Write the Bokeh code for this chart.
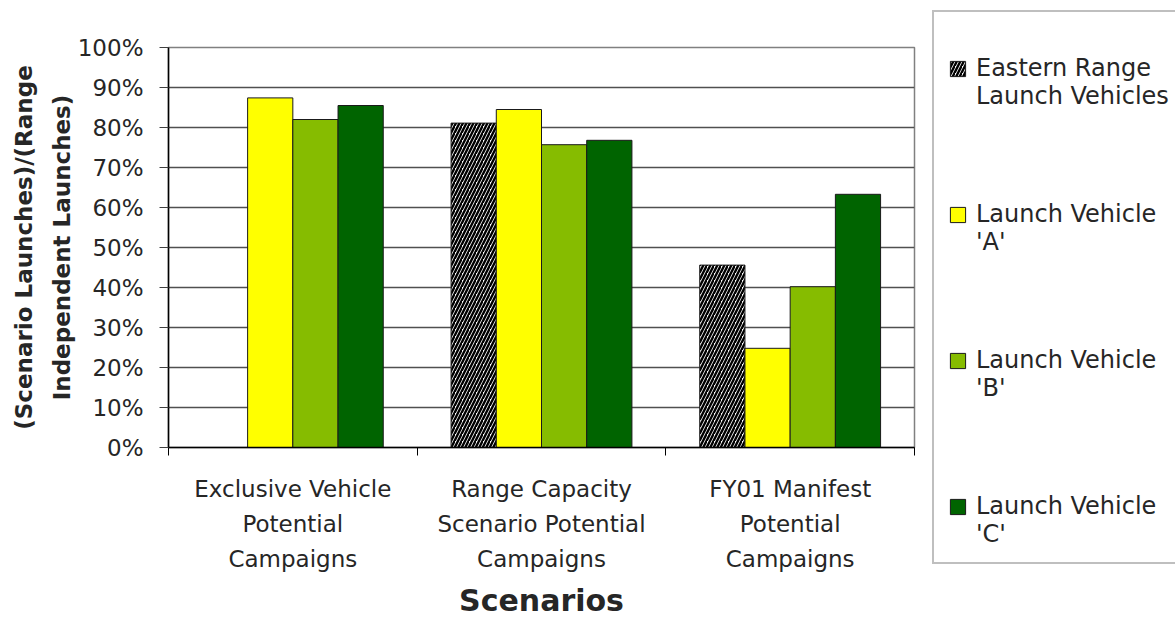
import math
from bokeh.plotting import figure
from bokeh.models import (Range1d, FixedTicker, NumeralTickFormatter, Legend, LegendItem,
                          ColumnDataSource)
from bokeh.transform import dodge
from bokeh.embed import file_html
from bokeh.resources import INLINE

# ---- data ----
categories = ["Exclusive Vehicle\nPotential\nCampaigns",
              "Range Capacity\nScenario Potential\nCampaigns",
              "FY01 Manifest\nPotential\nCampaigns"]
series_names = ["Eastern Range\nLaunch Vehicles", "Launch Vehicle\n'A'",
                "Launch Vehicle\n'B'", "Launch Vehicle\n'C'"]
eastern_range = [float("nan"), 0.811, 0.456]
vehicle_a = [0.874, 0.845, 0.248]
vehicle_b = [0.820, 0.757, 0.402]
vehicle_c = [0.855, 0.768, 0.633]
y_ticks = [0.0, 0.1, 0.2, 0.3, 0.4, 0.5, 0.6, 0.7, 0.8, 0.9, 1.0]

FONT = "DejaVu Sans"
TXT = "#262626"

xpos = [i + 0.5 for i in range(len(categories))]
src = ColumnDataSource(dict(x=xpos, er=eastern_range, a=vehicle_a, b=vehicle_b, c=vehicle_c))

p = figure(frame_width=746, frame_height=400,
           x_range=Range1d(0, len(categories)), y_range=Range1d(0, 1),
           output_backend="svg", toolbar_location=None,
           min_border_left=168, min_border_right=0, min_border_top=47, min_border_bottom=100)

p.background_fill_color = "white"
p.border_fill_color = "white"
p.outline_line_color = "#808080"
p.outline_line_width = 1.5

bw = 1 / 5.5
cols = ["er", "a", "b", "c"]
fills = ["white", "#FFFF00", "#86BC00", "#006400"]
renderers = []
for i, (col, fc) in enumerate(zip(cols, fills)):
    kw = dict(x=dodge("x", (i - 1.5) * bw, range=p.x_range), top=col, width=bw, bottom=0,
              source=src, fill_color=fc, line_color="#1a1a1a", line_width=1)
    if i == 0:
        kw.update(hatch_pattern="/", hatch_color="black", hatch_weight=2.4, hatch_scale=7)
    renderers.append(p.vbar(**kw))

# x axis
xa = p.xaxis[0]
xa.ticker = FixedTicker(ticks=xpos, minor_ticks=[float(i) for i in range(len(categories) + 1)])
xa.major_label_overrides = {x: lab for x, lab in zip(xpos, categories)}
xa.major_tick_line_color = None
xa.major_tick_out = 8
xa.major_tick_in = 0
xa.minor_tick_line_color = "black"
xa.minor_tick_out = 8
xa.minor_tick_in = 0
xa.axis_line_color = "black"
xa.axis_line_width = 1.5
xa.major_label_text_font = FONT
xa.major_label_text_font_size = "23px"
xa.major_label_text_color = TXT
xa.major_label_text_line_height = 1.35
xa.major_label_standoff = 20
xa.axis_label = "Scenarios"
xa.axis_label_text_font = FONT
xa.axis_label_text_font_size = "30px"
xa.axis_label_text_font_style = "bold"
xa.axis_label_text_color = TXT
xa.axis_label_standoff = 8

# y axis
ya = p.yaxis[0]
ya.ticker = FixedTicker(ticks=y_ticks)
ya.formatter = NumeralTickFormatter(format="0%")
ya.major_tick_out = 9
ya.major_tick_in = 0
ya.major_tick_line_color = "#404040"
ya.minor_tick_line_color = None
ya.axis_line_color = "black"
ya.axis_line_width = 1.5
ya.major_label_text_font = FONT
ya.major_label_text_font_size = "23px"
ya.major_label_text_color = TXT
ya.major_label_standoff = 16
ya.axis_label = "(Scenario Launches)/(Range\nIndependent Launches)"
ya.axis_label_text_font = FONT
ya.axis_label_text_font_size = "23px"
ya.axis_label_text_font_style = "bold"
ya.axis_label_text_color = TXT
ya.axis_label_text_line_height = 1.45
ya.axis_label_standoff = 0

p.xgrid.visible = False
p.ygrid.ticker = FixedTicker(ticks=y_ticks)
p.ygrid.grid_line_color = "#505050"
p.ygrid.grid_line_width = 1.5

# leading blank line keeps each glyph beside the first text line
legend_labels = ["\n" + n for n in series_names]
legend = Legend(items=[LegendItem(label=n, renderers=[r]) for n, r in zip(legend_labels, renderers)],
                location=(18, -117))
legend.border_line_color = "#808080"
legend.border_line_width = 2
legend.background_fill_color = "white"
legend.background_fill_alpha = 1
legend.padding = 14
legend.spacing = 62
legend.margin = 0
legend.glyph_width = 19
legend.glyph_height = 19
legend.label_standoff = 9
legend.label_text_font = FONT
legend.label_text_font_size = "24px"
legend.label_text_color = TXT
legend.label_text_line_height = 1.3
p.add_layout(legend, "right")

open("out.html", "w").write(file_html(p, INLINE))
